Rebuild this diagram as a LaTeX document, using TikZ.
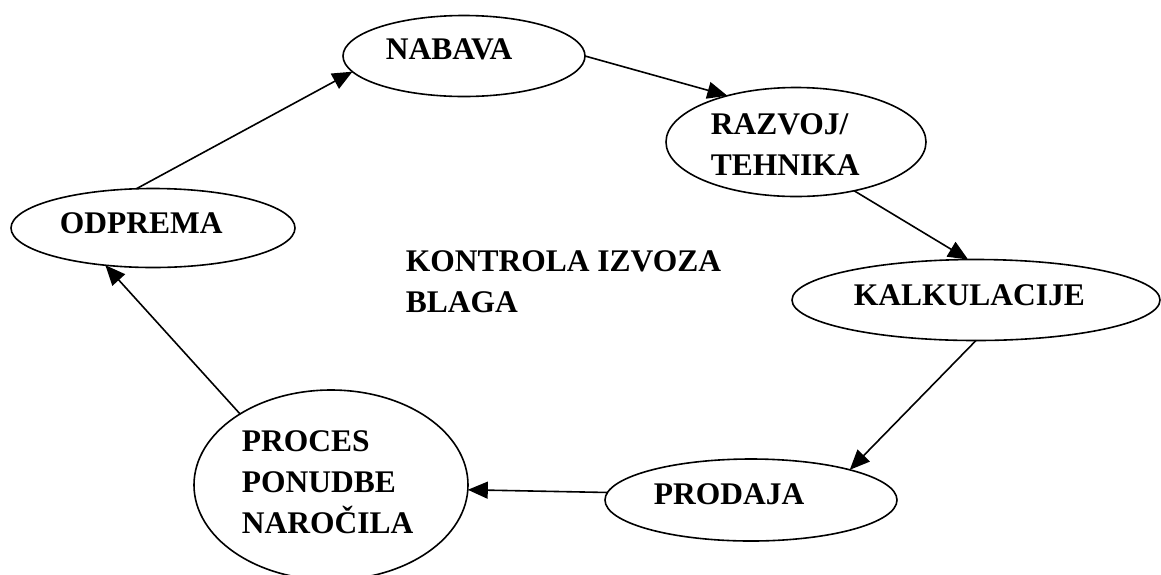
\documentclass[tikz,border=0pt]{standalone}
\usepackage{fontspec}
\setmainfont{Liberation Serif}
\usepackage{tikz}
\usetikzlibrary{arrows.meta,shapes.geometric}
\tikzstyle{phase}     = [draw,ellipse,line width=1.6pt,inner sep=0mm,outer sep=0mm]
\tikzstyle{phasetext} = [inner sep=0mm,align=left,font=\bfseries\fontsize{31.5}{41}\selectfont]

\begin{document}
\begin{tikzpicture}[->,>={Triangle[length=20pt,width=17pt]},line width=1.6pt,x=1pt,y=-1pt]
\useasboundingbox (0,0) rectangle (1161,574);

\node[phase] (nab)  at (464,56)  [minimum width=242pt,minimum height=81pt]  {};
\node[phase] (raz)  at (796,142) [minimum width=260pt,minimum height=109pt] {};
\node[phase] (kal)  at (976,300) [minimum width=368pt,minimum height=81pt]  {};
\node[phase] (prod) at (751,500) [minimum width=292pt,minimum height=82pt]  {};
\node[phase] (proc) at (331,485) [minimum width=274pt,minimum height=190pt] {};
\node[phase] (odp)  at (153,228) [minimum width=284pt,minimum height=79pt]  {};

\node[phasetext,anchor=base west]  (nabtext)  at (385,59)  {NABAVA};
\node[phasetext,anchor=north west] (raztext)  at (710,113) {RAZVOJ/\\TEHNIKA};
\node[phasetext,anchor=base west]  (kaltext)  at (853,305) {KALKULACIJE};
\node[phasetext,anchor=base west]  (prodtext) at (653,504) {PRODAJA};
\node[phasetext,anchor=north west] (proctext) at (241,430) {PROCES\\PONUDBE\\NAROČILA};
\node[phasetext,anchor=base west]  (odptext)  at (59,233)  {ODPREMA};
\node[phasetext,anchor=north west] (ctrl)     at (405,250) {KONTROLA IZVOZA\\BLAGA};

\path
    (odp.113)  edge (nab.188)
    (nab.0)    edge (raz.146)
    (raz.-40)  edge (kal.101)
    (kal.-90)  edge (prod.17)
    (prod.177) edge (proc.-2)
    (proc.142) edge (odp.218);

\end{tikzpicture}
\end{document}
